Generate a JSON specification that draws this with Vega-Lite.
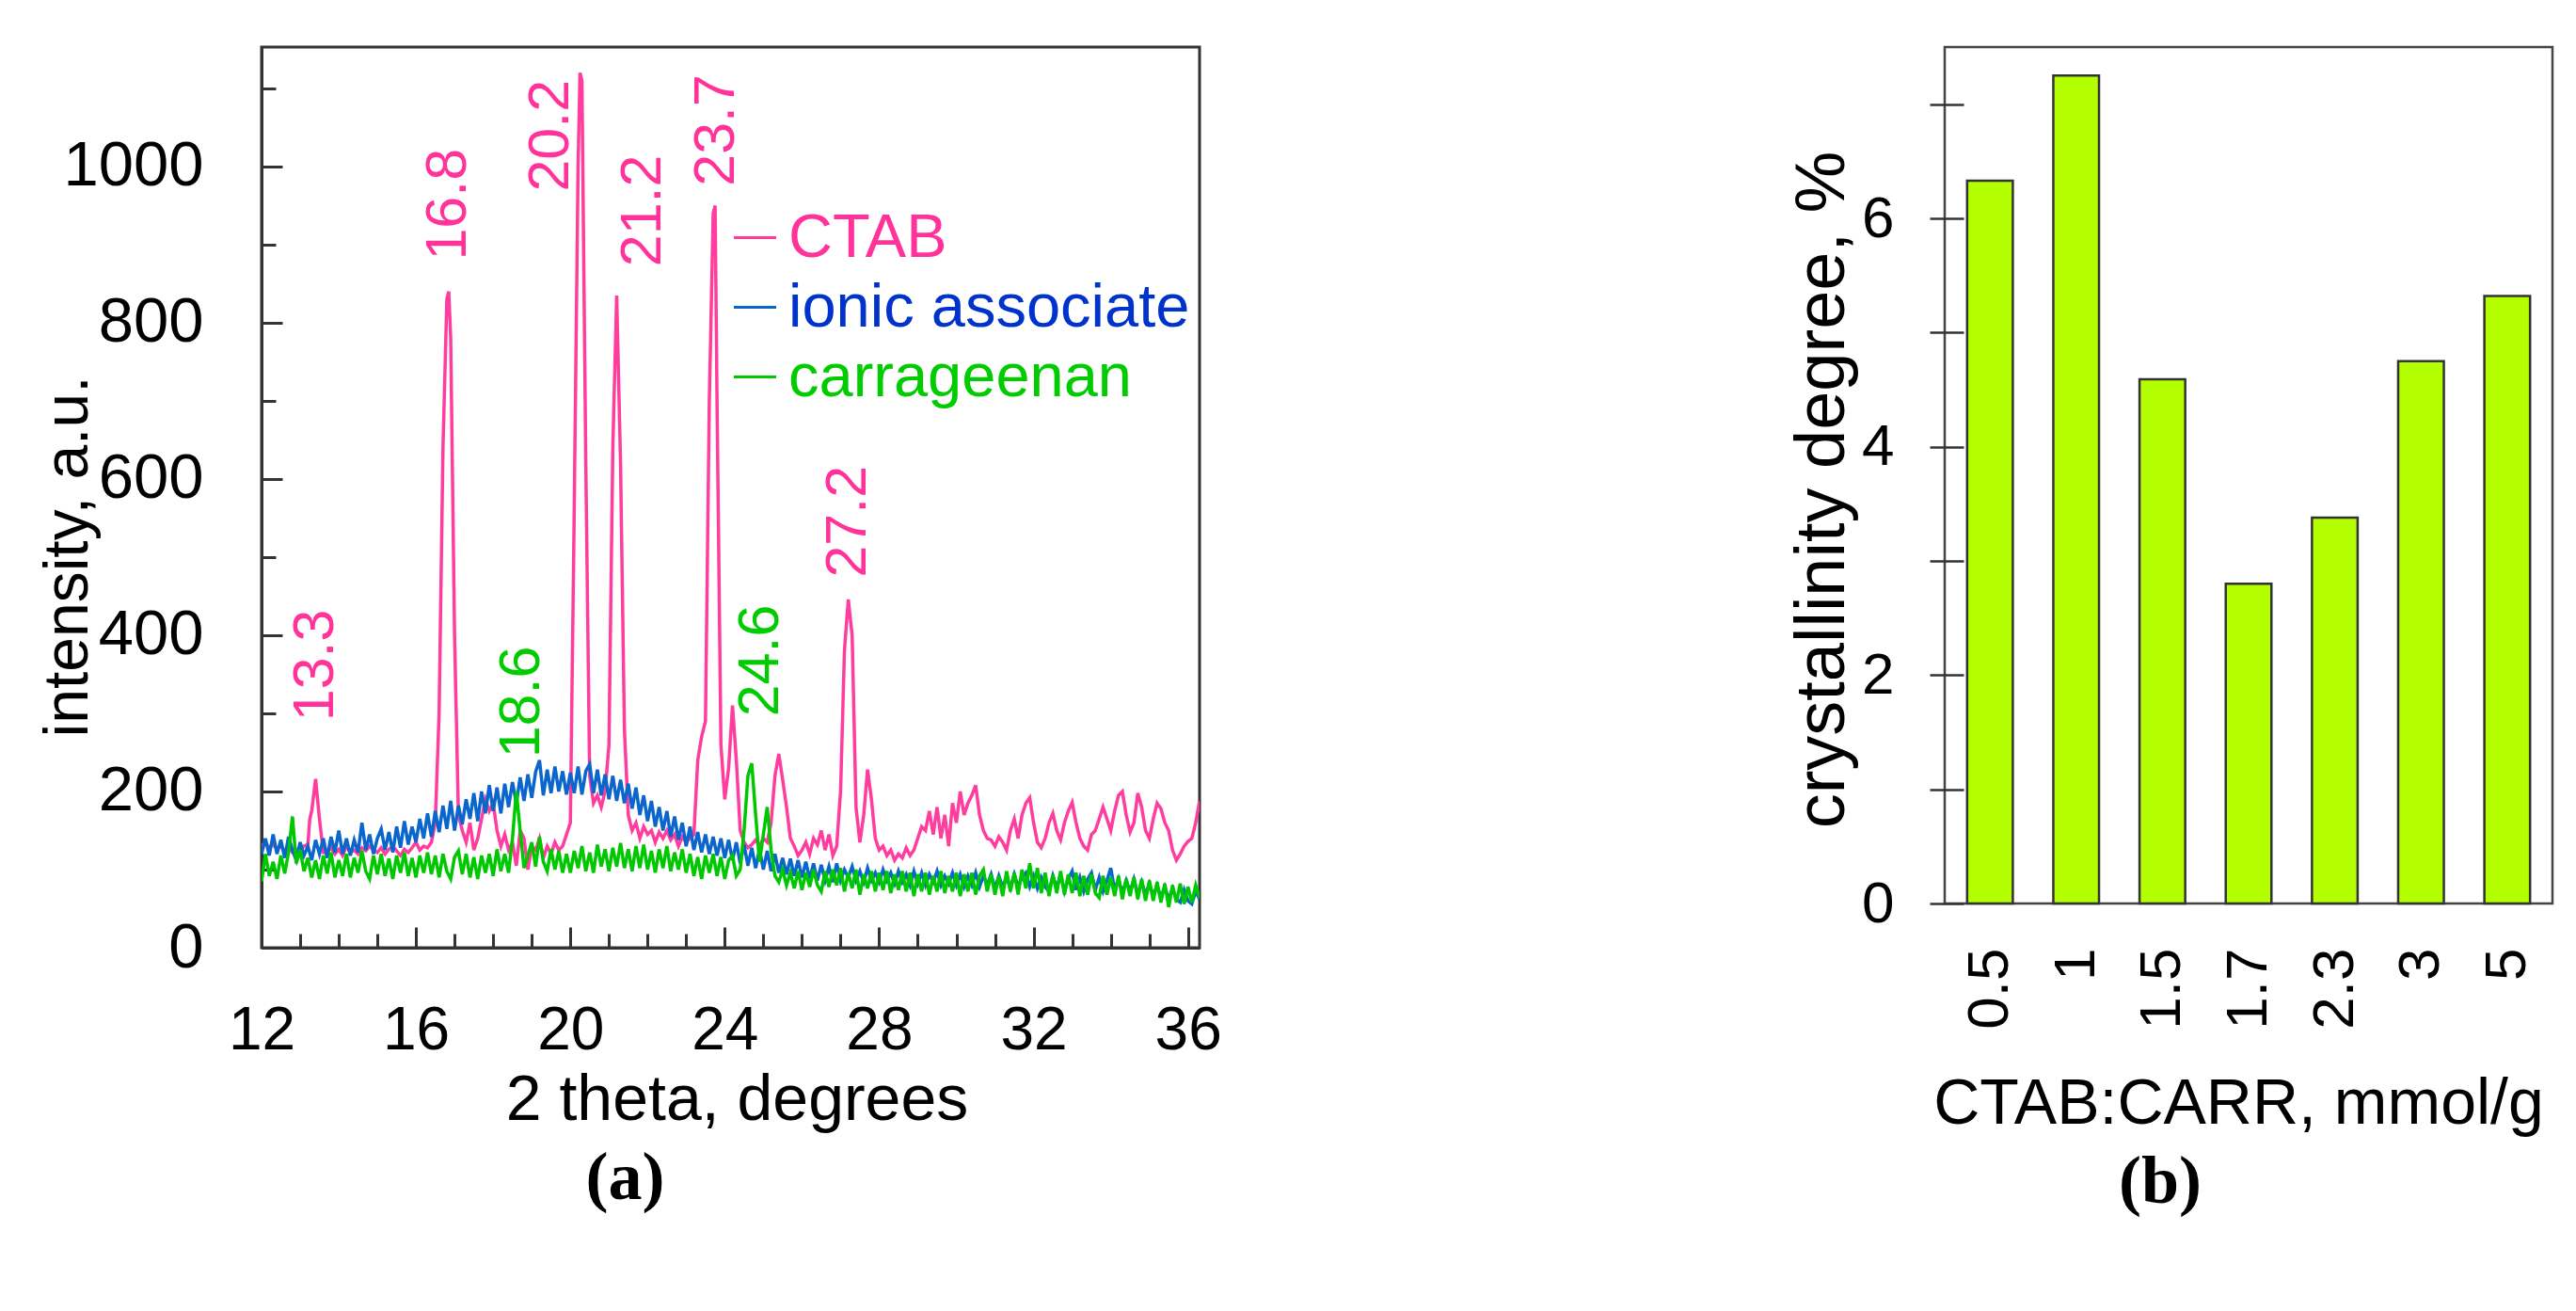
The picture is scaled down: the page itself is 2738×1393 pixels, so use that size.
{
  "$schema": "https://vega.github.io/schema/vega-lite/v6.json",
  "background": "white",
  "padding": {"left": 37, "top": 48, "right": 5, "bottom": 5},
  "spacing": 598,
  "config": {
    "font": "Liberation Sans",
    "view": {"stroke": "#333", "strokeWidth": 3},
    "axis": {"grid": false, "labelColor": "#000", "titleColor": "#000", "titleFontWeight": "normal", "tickColor": "#333", "domainColor": "#333"}
  },
  "datasets": {
    "ctab": [
      {"t":12,"v":130},{"t":12.1,"v":135},{"t":12.2,"v":128},{"t":12.3,"v":132},{"t":12.4,"v":126},{"t":12.5,"v":130},{"t":12.6,"v":124},{"t":12.7,"v":128},{"t":12.8,"v":122},{"t":12.9,"v":126},
      {"t":13,"v":125},{"t":13.1,"v":130},{"t":13.2,"v":132},{"t":13.25,"v":165},{"t":13.3,"v":175},{"t":13.4,"v":216},{"t":13.5,"v":165},{"t":13.6,"v":122},{"t":13.7,"v":122},{"t":13.8,"v":128},{"t":13.9,"v":120},
      {"t":14,"v":126},{"t":14.1,"v":118},{"t":14.2,"v":130},{"t":14.3,"v":122},{"t":14.4,"v":125},{"t":14.5,"v":120},{"t":14.6,"v":128},{"t":14.7,"v":124},{"t":14.8,"v":130},{"t":14.9,"v":125},
      {"t":15,"v":122},{"t":15.1,"v":128},{"t":15.2,"v":120},{"t":15.3,"v":126},{"t":15.4,"v":130},{"t":15.5,"v":124},{"t":15.6,"v":118},{"t":15.7,"v":126},{"t":15.8,"v":122},{"t":15.9,"v":128},
      {"t":16,"v":135},{"t":16.1,"v":125},{"t":16.2,"v":130},{"t":16.3,"v":128},{"t":16.4,"v":135},{"t":16.5,"v":160},{"t":16.6,"v":300},{"t":16.7,"v":640},{"t":16.8,"v":830},{"t":16.85,"v":840},{"t":16.9,"v":780},
      {"t":17,"v":400},{"t":17.1,"v":170},{"t":17.2,"v":150},{"t":17.3,"v":135},{"t":17.4,"v":160},{"t":17.5,"v":125},{"t":17.6,"v":140},{"t":17.7,"v":165},{"t":17.8,"v":190},{"t":17.9,"v":175},
      {"t":18,"v":185},{"t":18.1,"v":150},{"t":18.2,"v":130},{"t":18.3,"v":145},{"t":18.4,"v":125},{"t":18.5,"v":135},{"t":18.6,"v":105},{"t":18.7,"v":150},{"t":18.8,"v":140},{"t":18.9,"v":100},
      {"t":19,"v":130},{"t":19.1,"v":125},{"t":19.2,"v":140},{"t":19.3,"v":115},{"t":19.4,"v":130},{"t":19.5,"v":120},{"t":19.6,"v":135},{"t":19.7,"v":125},{"t":19.8,"v":130},{"t":19.9,"v":145},
      {"t":20,"v":160},{"t":20.1,"v":560},{"t":20.2,"v":1000},{"t":20.25,"v":1120},{"t":20.3,"v":1110},{"t":20.4,"v":620},{"t":20.5,"v":220},{"t":20.6,"v":185},{"t":20.7,"v":195},{"t":20.8,"v":180},{"t":20.9,"v":200},
      {"t":21,"v":260},{"t":21.1,"v":640},{"t":21.2,"v":835},{"t":21.3,"v":620},{"t":21.4,"v":280},{"t":21.5,"v":170},{"t":21.6,"v":150},{"t":21.7,"v":160},{"t":21.8,"v":140},{"t":21.9,"v":155},
      {"t":22,"v":145},{"t":22.1,"v":150},{"t":22.2,"v":135},{"t":22.3,"v":148},{"t":22.4,"v":140},{"t":22.5,"v":150},{"t":22.6,"v":138},{"t":22.7,"v":145},{"t":22.8,"v":130},{"t":22.9,"v":142},
      {"t":23,"v":135},{"t":23.1,"v":140},{"t":23.2,"v":145},{"t":23.3,"v":240},{"t":23.4,"v":270},{"t":23.5,"v":290},{"t":23.6,"v":700},{"t":23.7,"v":940},{"t":23.75,"v":950},{"t":23.8,"v":700},{"t":23.9,"v":260},
      {"t":24,"v":190},{"t":24.1,"v":230},{"t":24.2,"v":310},{"t":24.3,"v":240},{"t":24.4,"v":150},{"t":24.5,"v":135},{"t":24.6,"v":128},{"t":24.7,"v":132},{"t":24.8,"v":138},{"t":24.9,"v":130},
      {"t":25,"v":140},{"t":25.1,"v":135},{"t":25.2,"v":160},{"t":25.3,"v":220},{"t":25.4,"v":248},{"t":25.5,"v":215},{"t":25.6,"v":180},{"t":25.7,"v":140},{"t":25.8,"v":130},{"t":25.9,"v":118},
      {"t":26,"v":125},{"t":26.1,"v":135},{"t":26.2,"v":120},{"t":26.3,"v":140},{"t":26.4,"v":132},{"t":26.5,"v":150},{"t":26.6,"v":125},{"t":26.7,"v":145},{"t":26.8,"v":118},{"t":26.9,"v":130},
      {"t":27,"v":200},{"t":27.1,"v":380},{"t":27.2,"v":446},{"t":27.3,"v":400},{"t":27.4,"v":180},{"t":27.5,"v":135},{"t":27.6,"v":170},{"t":27.7,"v":228},{"t":27.8,"v":190},{"t":27.9,"v":140},
      {"t":28,"v":125},{"t":28.1,"v":130},{"t":28.2,"v":118},{"t":28.3,"v":125},{"t":28.4,"v":112},{"t":28.5,"v":120},{"t":28.6,"v":115},{"t":28.7,"v":128},{"t":28.8,"v":118},{"t":28.9,"v":125},
      {"t":29,"v":140},{"t":29.1,"v":155},{"t":29.2,"v":150},{"t":29.3,"v":175},{"t":29.4,"v":145},{"t":29.5,"v":180},{"t":29.6,"v":140},{"t":29.7,"v":170},{"t":29.8,"v":130},{"t":29.9,"v":185},
      {"t":30,"v":160},{"t":30.1,"v":200},{"t":30.2,"v":170},{"t":30.3,"v":185},{"t":30.4,"v":195},{"t":30.5,"v":208},{"t":30.6,"v":170},{"t":30.7,"v":150},{"t":30.8,"v":140},{"t":30.9,"v":138},
      {"t":31,"v":130},{"t":31.1,"v":142},{"t":31.2,"v":135},{"t":31.3,"v":125},{"t":31.4,"v":150},{"t":31.5,"v":165},{"t":31.6,"v":140},{"t":31.7,"v":170},{"t":31.8,"v":185},{"t":31.9,"v":192},
      {"t":32,"v":160},{"t":32.1,"v":135},{"t":32.2,"v":128},{"t":32.3,"v":140},{"t":32.4,"v":160},{"t":32.5,"v":172},{"t":32.6,"v":150},{"t":32.7,"v":138},{"t":32.8,"v":160},{"t":32.9,"v":175},
      {"t":33,"v":186},{"t":33.1,"v":160},{"t":33.2,"v":140},{"t":33.3,"v":130},{"t":33.4,"v":125},{"t":33.5,"v":145},{"t":33.6,"v":150},{"t":33.7,"v":165},{"t":33.8,"v":180},{"t":33.9,"v":165},
      {"t":34,"v":150},{"t":34.1,"v":175},{"t":34.2,"v":195},{"t":34.3,"v":200},{"t":34.4,"v":170},{"t":34.5,"v":148},{"t":34.6,"v":160},{"t":34.7,"v":198},{"t":34.8,"v":180},{"t":34.9,"v":150},
      {"t":35,"v":140},{"t":35.1,"v":165},{"t":35.2,"v":185},{"t":35.3,"v":178},{"t":35.4,"v":160},{"t":35.5,"v":150},{"t":35.6,"v":125},{"t":35.7,"v":112},{"t":35.8,"v":120},{"t":35.9,"v":130},
      {"t":36,"v":136},{"t":36.1,"v":140},{"t":36.2,"v":160},{"t":36.3,"v":188}
    ],
    "ionic": [
      {"t":12,"v":120},{"t":12.1,"v":140},{"t":12.2,"v":118},{"t":12.3,"v":145},{"t":12.4,"v":120},{"t":12.5,"v":138},{"t":12.6,"v":115},{"t":12.7,"v":142},{"t":12.8,"v":125},{"t":12.9,"v":112},
      {"t":13,"v":135},{"t":13.1,"v":118},{"t":13.2,"v":130},{"t":13.3,"v":112},{"t":13.4,"v":138},{"t":13.5,"v":120},{"t":13.6,"v":140},{"t":13.7,"v":115},{"t":13.8,"v":142},{"t":13.9,"v":122},
      {"t":14,"v":150},{"t":14.1,"v":120},{"t":14.2,"v":140},{"t":14.3,"v":118},{"t":14.4,"v":138},{"t":14.5,"v":122},{"t":14.6,"v":160},{"t":14.7,"v":125},{"t":14.8,"v":145},{"t":14.9,"v":120},
      {"t":15,"v":140},{"t":15.1,"v":152},{"t":15.2,"v":125},{"t":15.3,"v":148},{"t":15.4,"v":122},{"t":15.5,"v":155},{"t":15.6,"v":128},{"t":15.7,"v":162},{"t":15.8,"v":132},{"t":15.9,"v":155},
      {"t":16,"v":135},{"t":16.1,"v":165},{"t":16.2,"v":140},{"t":16.3,"v":172},{"t":16.4,"v":142},{"t":16.5,"v":175},{"t":16.6,"v":148},{"t":16.7,"v":182},{"t":16.8,"v":152},{"t":16.9,"v":188},
      {"t":17,"v":150},{"t":17.1,"v":182},{"t":17.2,"v":158},{"t":17.3,"v":190},{"t":17.4,"v":165},{"t":17.5,"v":198},{"t":17.6,"v":162},{"t":17.7,"v":200},{"t":17.8,"v":172},{"t":17.9,"v":208},
      {"t":18,"v":175},{"t":18.1,"v":205},{"t":18.2,"v":172},{"t":18.3,"v":210},{"t":18.4,"v":180},{"t":18.5,"v":212},{"t":18.6,"v":185},{"t":18.7,"v":218},{"t":18.8,"v":188},{"t":18.9,"v":222},
      {"t":19,"v":192},{"t":19.1,"v":225},{"t":19.2,"v":240},{"t":19.3,"v":195},{"t":19.4,"v":228},{"t":19.5,"v":198},{"t":19.6,"v":232},{"t":19.7,"v":200},{"t":19.8,"v":226},{"t":19.9,"v":196},
      {"t":20,"v":224},{"t":20.1,"v":198},{"t":20.2,"v":232},{"t":20.3,"v":196},{"t":20.4,"v":226},{"t":20.5,"v":235},{"t":20.6,"v":198},{"t":20.7,"v":228},{"t":20.8,"v":195},{"t":20.9,"v":222},
      {"t":21,"v":190},{"t":21.1,"v":220},{"t":21.2,"v":188},{"t":21.3,"v":215},{"t":21.4,"v":185},{"t":21.5,"v":210},{"t":21.6,"v":178},{"t":21.7,"v":205},{"t":21.8,"v":170},{"t":21.9,"v":195},
      {"t":22,"v":162},{"t":22.1,"v":188},{"t":22.2,"v":155},{"t":22.3,"v":180},{"t":22.4,"v":150},{"t":22.5,"v":175},{"t":22.6,"v":142},{"t":22.7,"v":168},{"t":22.8,"v":138},{"t":22.9,"v":160},
      {"t":23,"v":130},{"t":23.1,"v":155},{"t":23.2,"v":125},{"t":23.3,"v":148},{"t":23.4,"v":122},{"t":23.5,"v":145},{"t":23.6,"v":120},{"t":23.7,"v":142},{"t":23.8,"v":118},{"t":23.9,"v":140},
      {"t":24,"v":115},{"t":24.1,"v":138},{"t":24.2,"v":112},{"t":24.3,"v":135},{"t":24.4,"v":108},{"t":24.5,"v":132},{"t":24.6,"v":105},{"t":24.7,"v":128},{"t":24.8,"v":102},{"t":24.9,"v":126},
      {"t":25,"v":100},{"t":25.1,"v":124},{"t":25.2,"v":98},{"t":25.3,"v":120},{"t":25.4,"v":96},{"t":25.5,"v":115},{"t":25.6,"v":94},{"t":25.7,"v":114},{"t":25.8,"v":92},{"t":25.9,"v":112},
      {"t":26,"v":90},{"t":26.1,"v":110},{"t":26.2,"v":88},{"t":26.3,"v":108},{"t":26.4,"v":86},{"t":26.5,"v":106},{"t":26.6,"v":86},{"t":26.7,"v":104},{"t":26.8,"v":84},{"t":26.9,"v":108},
      {"t":27,"v":86},{"t":27.1,"v":100},{"t":27.2,"v":90},{"t":27.3,"v":104},{"t":27.4,"v":86},{"t":27.5,"v":98},{"t":27.6,"v":84},{"t":27.7,"v":102},{"t":27.8,"v":86},{"t":27.9,"v":96},
      {"t":28,"v":84},{"t":28.1,"v":100},{"t":28.2,"v":86},{"t":28.3,"v":96},{"t":28.4,"v":82},{"t":28.5,"v":98},{"t":28.6,"v":84},{"t":28.7,"v":94},{"t":28.8,"v":80},{"t":28.9,"v":98},
      {"t":29,"v":82},{"t":29.1,"v":96},{"t":29.2,"v":80},{"t":29.3,"v":94},{"t":29.4,"v":84},{"t":29.5,"v":98},{"t":29.6,"v":80},{"t":29.7,"v":92},{"t":29.8,"v":82},{"t":29.9,"v":96},
      {"t":30,"v":80},{"t":30.1,"v":94},{"t":30.2,"v":78},{"t":30.3,"v":92},{"t":30.4,"v":80},{"t":30.5,"v":96},{"t":30.6,"v":78},{"t":30.7,"v":92},{"t":30.8,"v":80},{"t":30.9,"v":94},
      {"t":31,"v":76},{"t":31.1,"v":92},{"t":31.2,"v":78},{"t":31.3,"v":90},{"t":31.4,"v":76},{"t":31.5,"v":94},{"t":31.6,"v":78},{"t":31.7,"v":90},{"t":31.8,"v":96},{"t":31.9,"v":78},
      {"t":32,"v":92},{"t":32.1,"v":76},{"t":32.2,"v":90},{"t":32.3,"v":78},{"t":32.4,"v":72},{"t":32.5,"v":92},{"t":32.6,"v":76},{"t":32.7,"v":94},{"t":32.8,"v":72},{"t":32.9,"v":88},
      {"t":33,"v":98},{"t":33.1,"v":74},{"t":33.2,"v":90},{"t":33.3,"v":72},{"t":33.4,"v":88},{"t":33.5,"v":96},{"t":33.6,"v":74},{"t":33.7,"v":90},{"t":33.8,"v":72},{"t":33.9,"v":86},
      {"t":34,"v":102},{"t":34.1,"v":74},{"t":34.2,"v":88},{"t":34.3,"v":70},{"t":34.4,"v":86},{"t":34.5,"v":72},{"t":34.6,"v":88},{"t":34.7,"v":68},{"t":34.8,"v":84},{"t":34.9,"v":68},
      {"t":35,"v":82},{"t":35.1,"v":66},{"t":35.2,"v":80},{"t":35.3,"v":64},{"t":35.4,"v":78},{"t":35.5,"v":62},{"t":35.6,"v":76},{"t":35.7,"v":62},{"t":35.8,"v":58},{"t":35.9,"v":74},
      {"t":36,"v":60},{"t":36.1,"v":56},{"t":36.2,"v":72},{"t":36.3,"v":62}
    ],
    "carr": [
      {"t":12,"v":85},{"t":12.1,"v":120},{"t":12.2,"v":92},{"t":12.3,"v":110},{"t":12.4,"v":88},{"t":12.5,"v":118},{"t":12.6,"v":95},{"t":12.7,"v":122},{"t":12.8,"v":168},{"t":12.9,"v":108},
      {"t":13,"v":125},{"t":13.1,"v":98},{"t":13.2,"v":115},{"t":13.3,"v":90},{"t":13.4,"v":112},{"t":13.5,"v":88},{"t":13.6,"v":118},{"t":13.7,"v":95},{"t":13.8,"v":122},{"t":13.9,"v":90},
      {"t":14,"v":112},{"t":14.1,"v":92},{"t":14.2,"v":120},{"t":14.3,"v":90},{"t":14.4,"v":115},{"t":14.5,"v":96},{"t":14.6,"v":124},{"t":14.7,"v":98},{"t":14.8,"v":88},{"t":14.9,"v":118},
      {"t":15,"v":94},{"t":15.1,"v":120},{"t":15.2,"v":92},{"t":15.3,"v":114},{"t":15.4,"v":88},{"t":15.5,"v":118},{"t":15.6,"v":96},{"t":15.7,"v":122},{"t":15.8,"v":92},{"t":15.9,"v":115},
      {"t":16,"v":90},{"t":16.1,"v":118},{"t":16.2,"v":96},{"t":16.3,"v":122},{"t":16.4,"v":94},{"t":16.5,"v":118},{"t":16.6,"v":90},{"t":16.7,"v":120},{"t":16.8,"v":98},{"t":16.9,"v":88},
      {"t":17,"v":116},{"t":17.1,"v":124},{"t":17.2,"v":94},{"t":17.3,"v":120},{"t":17.4,"v":90},{"t":17.5,"v":116},{"t":17.6,"v":88},{"t":17.7,"v":118},{"t":17.8,"v":96},{"t":17.9,"v":120},
      {"t":18,"v":92},{"t":18.1,"v":126},{"t":18.2,"v":98},{"t":18.3,"v":120},{"t":18.4,"v":96},{"t":18.5,"v":140},{"t":18.6,"v":200},{"t":18.7,"v":150},{"t":18.8,"v":102},{"t":18.9,"v":118},
      {"t":19,"v":135},{"t":19.1,"v":104},{"t":19.2,"v":142},{"t":19.3,"v":110},{"t":19.4,"v":98},{"t":19.5,"v":126},{"t":19.6,"v":100},{"t":19.7,"v":124},{"t":19.8,"v":96},{"t":19.9,"v":120},
      {"t":20,"v":96},{"t":20.1,"v":124},{"t":20.2,"v":102},{"t":20.3,"v":130},{"t":20.4,"v":98},{"t":20.5,"v":122},{"t":20.6,"v":96},{"t":20.7,"v":132},{"t":20.8,"v":104},{"t":20.9,"v":126},
      {"t":21,"v":98},{"t":21.1,"v":128},{"t":21.2,"v":104},{"t":21.3,"v":134},{"t":21.4,"v":102},{"t":21.5,"v":126},{"t":21.6,"v":98},{"t":21.7,"v":130},{"t":21.8,"v":102},{"t":21.9,"v":132},
      {"t":22,"v":100},{"t":22.1,"v":124},{"t":22.2,"v":96},{"t":22.3,"v":126},{"t":22.4,"v":102},{"t":22.5,"v":130},{"t":22.6,"v":98},{"t":22.7,"v":122},{"t":22.8,"v":100},{"t":22.9,"v":126},
      {"t":23,"v":96},{"t":23.1,"v":120},{"t":23.2,"v":92},{"t":23.3,"v":116},{"t":23.4,"v":88},{"t":23.5,"v":118},{"t":23.6,"v":96},{"t":23.7,"v":120},{"t":23.8,"v":92},{"t":23.9,"v":116},
      {"t":24,"v":88},{"t":24.1,"v":112},{"t":24.2,"v":118},{"t":24.3,"v":92},{"t":24.4,"v":100},{"t":24.5,"v":150},{"t":24.6,"v":220},{"t":24.7,"v":236},{"t":24.8,"v":170},{"t":24.9,"v":110},
      {"t":25,"v":145},{"t":25.1,"v":180},{"t":25.2,"v":125},{"t":25.3,"v":92},{"t":25.4,"v":84},{"t":25.5,"v":100},{"t":25.6,"v":80},{"t":25.7,"v":96},{"t":25.8,"v":76},{"t":25.9,"v":98},
      {"t":26,"v":74},{"t":26.1,"v":96},{"t":26.2,"v":78},{"t":26.3,"v":100},{"t":26.4,"v":80},{"t":26.5,"v":72},{"t":26.6,"v":98},{"t":26.7,"v":78},{"t":26.8,"v":100},{"t":26.9,"v":80},
      {"t":27,"v":102},{"t":27.1,"v":72},{"t":27.2,"v":96},{"t":27.3,"v":76},{"t":27.4,"v":100},{"t":27.5,"v":68},{"t":27.6,"v":94},{"t":27.7,"v":76},{"t":27.8,"v":98},{"t":27.9,"v":72},
      {"t":28,"v":96},{"t":28.1,"v":74},{"t":28.2,"v":98},{"t":28.3,"v":70},{"t":28.4,"v":94},{"t":28.5,"v":74},{"t":28.6,"v":98},{"t":28.7,"v":72},{"t":28.8,"v":96},{"t":28.9,"v":66},
      {"t":29,"v":94},{"t":29.1,"v":72},{"t":29.2,"v":96},{"t":29.3,"v":68},{"t":29.4,"v":92},{"t":29.5,"v":72},{"t":29.6,"v":98},{"t":29.7,"v":70},{"t":29.8,"v":92},{"t":29.9,"v":72},
      {"t":30,"v":96},{"t":30.1,"v":66},{"t":30.2,"v":94},{"t":30.3,"v":72},{"t":30.4,"v":96},{"t":30.5,"v":68},{"t":30.6,"v":92},{"t":30.7,"v":100},{"t":30.8,"v":72},{"t":30.9,"v":94},
      {"t":31,"v":68},{"t":31.1,"v":92},{"t":31.2,"v":66},{"t":31.3,"v":98},{"t":31.4,"v":72},{"t":31.5,"v":96},{"t":31.6,"v":68},{"t":31.7,"v":100},{"t":31.8,"v":76},{"t":31.9,"v":108},
      {"t":32,"v":76},{"t":32.1,"v":102},{"t":32.2,"v":70},{"t":32.3,"v":96},{"t":32.4,"v":66},{"t":32.5,"v":94},{"t":32.6,"v":70},{"t":32.7,"v":98},{"t":32.8,"v":68},{"t":32.9,"v":94},
      {"t":33,"v":70},{"t":33.1,"v":96},{"t":33.2,"v":66},{"t":33.3,"v":92},{"t":33.4,"v":68},{"t":33.5,"v":94},{"t":33.6,"v":70},{"t":33.7,"v":64},{"t":33.8,"v":92},{"t":33.9,"v":68},
      {"t":34,"v":90},{"t":34.1,"v":66},{"t":34.2,"v":92},{"t":34.3,"v":62},{"t":34.4,"v":88},{"t":34.5,"v":66},{"t":34.6,"v":90},{"t":34.7,"v":62},{"t":34.8,"v":88},{"t":34.9,"v":60},
      {"t":35,"v":86},{"t":35.1,"v":60},{"t":35.2,"v":84},{"t":35.3,"v":58},{"t":35.4,"v":82},{"t":35.5,"v":52},{"t":35.6,"v":80},{"t":35.7,"v":58},{"t":35.8,"v":82},{"t":35.9,"v":56},
      {"t":36,"v":78},{"t":36.1,"v":58},{"t":36.2,"v":80},{"t":36.3,"v":64}
    ],
    "pinkLab": [
      {"t":13.42,"v":290,"label":"13.3"},
      {"t":16.85,"v":880,"label":"16.8"},
      {"t":19.5,"v":968,"label":"20.2"},
      {"t":21.9,"v":872,"label":"21.2"},
      {"t":23.8,"v":975,"label":"23.7"},
      {"t":27.21,"v":474,"label":"27.2"}
    ],
    "greenLab": [
      {"t":18.75,"v":243,"label":"18.6"},
      {"t":24.94,"v":296,"label":"24.6"}
    ],
    "bars": [
      {"ratio":"0.5","cryst":6.33},
      {"ratio":"1","cryst":7.25},
      {"ratio":"1.5","cryst":4.59},
      {"ratio":"1.7","cryst":2.80},
      {"ratio":"2.3","cryst":3.38},
      {"ratio":"3","cryst":4.75},
      {"ratio":"5","cryst":5.32}
    ]
  },
  "hconcat": [
    {
      "width": 997,
      "height": 957,
      "title": {"text": "(a)", "orient": "bottom", "anchor": "middle", "frame": "group", "dx": -112, "offset": 14, "font": "Liberation Serif", "fontSize": 72, "fontWeight": "bold", "color": "#000"},
      "encoding": {
        "x": {
          "field": "t", "type": "quantitative",
          "scale": {"domain": [12, 36.3], "nice": false, "zero": false},
          "title": "2 theta, degrees",
          "axis": {
            "values": [12,13,14,15,16,17,18,19,20,21,22,23,24,25,26,27,28,29,30,31,32,33,34,35,36],
            "labelExpr": "datum.value % 4 === 0 ? datum.label : ''",
            "labelFlush": false, "labelOverlap": false,
            "tickSize": {"condition": {"test": "datum.value % 4 === 0", "value": -22}, "value": -15},
            "tickWidth": 3, "domainWidth": 3,
            "labelFontSize": 64, "labelPadding": 78,
            "titleFontSize": 68, "titleX": 505, "titleY": 162, "titleBaseline": "middle", "titleAlign": "center"
          }
        },
        "y": {
          "field": "v", "type": "quantitative",
          "scale": {"domain": [0, 1153], "nice": false},
          "title": "intensity, a.u.",
          "axis": {
            "values": [0,100,200,300,400,500,600,700,800,900,1000,1100],
            "format": "d",
            "labelExpr": "datum.value % 200 === 0 ? datum.label : ''",
            "labelFlush": false, "labelOverlap": false,
            "tickSize": {"condition": {"test": "datum.value % 200 === 0", "value": -22}, "value": -15},
            "tickWidth": 3, "domainWidth": 3,
            "labelFontSize": 67, "labelPadding": 84,
            "titleFontSize": 66, "titleX": -206, "titleY": 541, "titleAngle": 270, "titleBaseline": "middle", "titleAlign": "center"
          }
        }
      },
      "layer": [
        {
          "data": {"name": "ctab"},
          "mark": {"type": "line", "strokeWidth": 3.5, "clip": true},
          "encoding": {
            "color": {
              "datum": "CTAB", "type": "nominal",
              "scale": {"domain": ["CTAB", "ionic associate", "carrageenan"], "range": ["#ff3d9e", "#0a66cc", "#00c800"]},
              "legend": {
                "orient": "none", "legendX": 492, "legendY": 170, "title": null,
                "symbolType": "stroke", "symbolSize": 2025, "symbolStrokeWidth": 3,
                "labelFontSize": 65, "labelOffset": 3, "rowPadding": 8, "labelLimit": 1000,
                "labelColor": {"expr": "datum.value === 'CTAB' ? '#ff3399' : (datum.value === 'ionic associate' ? '#0033cc' : '#00cc00')"}
              }
            }
          }
        },
        {
          "data": {"name": "ionic"},
          "mark": {"type": "line", "strokeWidth": 3.5, "clip": true},
          "encoding": {"color": {"datum": "ionic associate", "type": "nominal"}}
        },
        {
          "data": {"name": "carr"},
          "mark": {"type": "line", "strokeWidth": 3.5, "clip": true},
          "encoding": {"color": {"datum": "carrageenan", "type": "nominal"}}
        },
        {
          "data": {"name": "pinkLab"},
          "mark": {"type": "text", "angle": 270, "align": "left", "baseline": "middle", "fontSize": 61, "color": "#ff3399"},
          "encoding": {"text": {"field": "label", "type": "nominal"}}
        },
        {
          "data": {"name": "greenLab"},
          "mark": {"type": "text", "angle": 270, "align": "left", "baseline": "middle", "fontSize": 61, "color": "#00cc00"},
          "encoding": {"text": {"field": "label", "type": "nominal"}}
        }
      ]
    },
    {
      "width": 646,
      "height": 910,
      "data": {"name": "bars"},
      "view": {"stroke": "#444", "strokeWidth": 2.5},
      "title": {"text": "(b)", "orient": "bottom", "anchor": "middle", "frame": "group", "dx": -94, "offset": 14, "font": "Liberation Serif", "fontSize": 72, "fontWeight": "bold", "color": "#000"},
      "mark": {"type": "bar", "fill": "#b3ff00", "stroke": "#333", "strokeWidth": 2.5},
      "encoding": {
        "x": {
          "field": "ratio", "type": "ordinal", "sort": null,
          "scale": {"paddingInner": 0.47, "paddingOuter": 0.26},
          "title": "CTAB:CARR, mmol/g",
          "axis": {"labelAngle": 270, "ticks": false, "domain": false, "labelFontSize": 62, "labelPadding": 47, "titleFontSize": 68, "titleX": 312, "titleY": 213, "titleBaseline": "middle", "titleAlign": "center"}
        },
        "y": {
          "field": "cryst", "type": "quantitative",
          "scale": {"domain": [0, 7.5], "nice": false},
          "title": "crystallinity degree, %",
          "axis": {
            "values": [0,1,2,3,4,5,6,7],
            "labelExpr": "datum.value % 2 === 0 ? datum.label : ''",
            "labelFlush": false, "labelOverlap": false,
            "offset": -20, "tickSize": 36, "tickWidth": 2.5, "domain": false,
            "labelFontSize": 62, "labelPadding": 38,
            "titleFontSize": 74, "titleX": -150, "titleY": 470, "titleAngle": 270, "titleBaseline": "middle", "titleAlign": "center"
          }
        }
      }
    }
  ]
}
